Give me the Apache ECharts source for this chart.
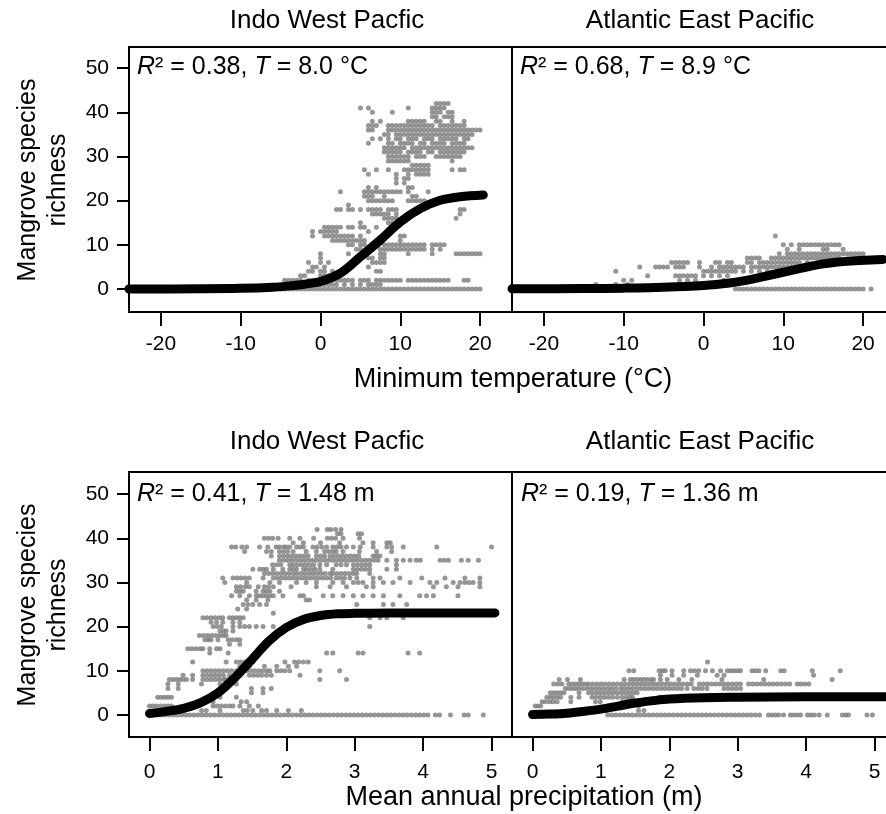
<!DOCTYPE html>
<html>
<head>
<meta charset="utf-8">
<title>Mangrove species richness</title>
<script src="https://cdn.jsdelivr.net/npm/echarts@6/dist/echarts.min.js"></script>
<style>
  html, body { margin: 0; padding: 0; background: #fff; }
  #chart { width: 886px; height: 814px; }
</style>
</head>
<body>
<div id="chart"></div>
<script>
// labels
var regionNames = ['Indo West Pacfic', 'Atlantic East Pacific'];
var fitLabels = [
  ['0.38', '8.0 °C'], ['0.68', '8.9 °C'],
  ['0.41', '1.48 m'], ['0.19', '1.36 m']
];
var tempTicks = [-20, -10, 0, 10, 20];
var precipTicks = [0, 1, 2, 3, 4, 5];
var richTicks = [0, 10, 20, 30, 40, 50];

// scatter rows: [richness, [x values]]
var iwpTempRows = [
  [42, [14.5, 15, 15.5, 16]],
  [41, [5, 6, 11, 14, 14.5, 15, 15.5]],
  [40, [6.5, 9, 14, 14.5, 15, 16, 16.5]],
  [39, [14, 14.5, 15.5, 16, 16.5]],
  [38, [6.5, 7.5, 11, 11.5, 12, 12.5, 13, 14.5, 15, 16.5, 18]],
  [37, [6, 6.5, 7, 8.5, 9, 9.5, 10, 10.5, 11, 11.5, 12, 12.5, 13, 13.5, 14, 15, 15.5, 16, 16.5, 17, 17.5, 18]],
  [36, [6, 6.5, 8.5, 9, 9.5, 10, 10.5, 11, 11.5, 12, 12.5, 13, 13.5, 14, 14.5, 15, 15.5, 16, 16.5, 17, 17.5, 18, 18.5, 19, 19.5, 20]],
  [35, [8, 8.5, 9.5, 10, 10.5, 11, 11.5, 12, 12.5, 13, 13.5, 14, 14.5, 15, 15.5, 16, 16.5, 17, 17.5, 18, 18.5, 19]],
  [34, [6.5, 7.5, 8.5, 9.5, 10, 11, 11.5, 12, 13, 13.5, 14, 15, 15.5, 16, 16.5, 17, 18, 18.5]],
  [33, [6, 8.5, 9, 10, 10.5, 11, 11.5, 12.5, 13, 14, 14.5, 15, 15.5, 16.5, 17, 17.5, 18]],
  [32, [8, 8.5, 9, 9.5, 10, 10.5, 11.5, 12, 12.5, 13, 13.5, 14, 14.5, 15, 15.5, 16, 16.5, 17, 17.5, 18, 18.5, 19]],
  [31, [8, 8.5, 9, 9.5, 10, 11, 11.5, 12, 12.5, 13.5, 14, 15, 15.5, 16, 16.5, 17, 17.5, 18]],
  [30, [8.5, 9, 9.5, 10, 10.5, 11, 12, 12.5, 13, 14.5, 15, 15.5, 16, 16.5, 17, 17.5]],
  [29, [8.5, 9, 9.5, 10, 10.5, 11, 16.5]],
  [28, [11.5, 12, 12.5, 13, 13.5]],
  [27, [5.5, 7, 8.5, 10.5, 11, 11.5, 12, 12.5, 13, 13.5, 16.5, 17.5, 18]],
  [26, [6, 9.5, 11, 12, 12.5, 13, 13.5]],
  [25, [9.5, 10.5, 11]],
  [24, [9.5, 10.5]],
  [23, [6, 7, 11, 11.5]],
  [22, [2.5, 5.5, 6, 6.5, 7, 7.5, 8, 8.5, 9, 9.5, 10, 11, 13.5]],
  [21, [5.5, 6, 6.5, 8, 11.5, 12]],
  [20, [6, 6.5, 7, 7.5, 8, 8.5, 9, 11, 11.5, 12, 12.5, 13]],
  [19, [3.5]],
  [18, [2, 2.5, 3.5, 4, 5, 6, 6.5, 7, 7.5, 8.5, 9, 9.5, 17.5, 18]],
  [17, [6.5, 7, 7.5, 8, 8.5, 9.5, 17.5]],
  [16, [8, 8.5, 9, 9.5, 17]],
  [15, [5, 8.5, 9, 9.5]],
  [14, [0.5, 1, 1.5, 2, 2.5, 3.5, 4, 5, 5.5, 7]],
  [13, [-1, 0, 0.5, 1, 1.5, 2, 6]],
  [12, [-1, 0.5, 1, 1.5, 2, 2.5, 3, 3.5, 4, 5, 10, 10.5]],
  [11, [1.5, 2, 2.5, 3, 3.5, 4, 4.5, 5, 5.5, 7.5, 10]],
  [10, [3.5, 4, 5, 5.5, 8, 8.5, 9, 9.5, 10, 10.5, 11, 11.5, 12, 12.5, 13, 14, 14.5, 15, 15.5]],
  [9, [4.5, 5, 7.5, 8, 8.5, 9, 9.5, 10, 10.5, 11, 11.5, 12, 12.5, 13, 14, 15]],
  [8, [0, 3.5, 7.5, 8, 11, 14, 17, 17.5, 18, 18.5, 19, 19.5, 20]],
  [7, [0, 6, 6.5, 7.5, 8]],
  [6, [-1.5, 0, 1, 6.5, 7, 7.5, 8]],
  [5, [-1, -0.5, 0.5, 6]],
  [4, [-1.5, -1, 0, 0.5, 1.5, 7, 7.5]],
  [3, [-2.5, -2, 0, 0.5, 1]],
  [2, [-4.5, -4, -3.5, -3, -2.5, -1.5, -1, -0.5, 0, 0.5, 2, 2.5, 3, 3.5, 4, 5, 5.5, 6, 7, 7.5, 8, 8.5, 9, 9.5, 10, 11, 11.5, 12, 12.5, 13, 13.5, 14, 14.5, 15, 15.5, 16, 18, 18.5]],
  [1, [-4, -3, -2, -1.5, -1, -0.5, 0, 0.5, 1, 1.5, 2, 3, 4, 5, 6, 6.5, 7, 7.5]],
  [0, [-5, -4.5, -4, -3.5, -3, -2.5, -2, -1.5, -1, -0.5, 0, 0.5, 1, 1.5, 2, 2.5, 3, 3.5, 4, 4.5, 5, 5.5, 6, 6.5, 7, 7.5, 8, 8.5, 9, 9.5, 10, 10.5, 11, 11.5, 12, 12.5, 13, 13.5, 14, 14.5, 15, 15.5, 16, 16.5, 17, 17.5, 18, 18.5, 19, 19.5, 20]]
];

var aepTempRows = [
  [12, [9]],
  [10, [10, 11, 12, 12.5, 13, 13.5, 14, 14.5, 15, 15.5, 16, 16.5, 17]],
  [9, [10.5, 12, 15, 15.5, 17.5]],
  [8, [9.5, 10.5, 11, 11.5, 12, 12.5, 13, 13.5, 14, 14.5, 15, 15.5, 16, 16.5, 17, 17.5, 18, 18.5, 19, 19.5, 20]],
  [7, [5.5, 6, 6.5, 7, 8.5, 9, 9.5, 10, 10.5, 11, 11.5, 12, 12.5, 13, 13.5, 14, 14.5, 15, 15.5, 16, 16.5, 17]],
  [6, [-4, -3.5, -3, -2.5, -2, -0.5, 1.5, 2, 3, 3.5, 5.5, 6, 7, 7.5, 8, 8.5, 9, 9.5, 10, 10.5, 11, 11.5, 12, 13]],
  [5, [-8, -6, -5.5, -5, -4.5, -3.5, -3, -2.5, -0.5, 1, 2, 2.5, 3, 3.5, 4, 4.5, 5, 6, 6.5, 7, 7.5, 8, 8.5, 9, 9.5, 10, 10.5, 11, 11.5, 12, 14]],
  [4, [-11, 0, 0.5, 1, 1.5, 2, 2.5, 3, 3.5, 4, 5, 6, 7, 8]],
  [3, [-7, -3.5, -3, -2.5, -2, -1.5, -1, 0, 1, 2, 3]],
  [2, [-10, -9, -3, -2, -1, 2.5, 3.5, 4.5]],
  [1, [-13.5, -11, -9.5]],
  [0, [4, 4.5, 5, 5.5, 6, 6.5, 7, 7.5, 8, 8.5, 9, 9.5, 10, 10.5, 11, 11.5, 12, 12.5, 13, 13.5, 14, 14.5, 15, 15.5, 16, 16.5, 17, 17.5, 18, 18.5, 19, 19.5, 20, 21]]
];

var iwpPrecRows = [
  [42, [2.45, 2.6, 2.65, 2.72, 2.8]],
  [41, [2.75, 2.8, 3.05, 3.1]],
  [40, [1.68, 1.74, 1.8, 1.88, 2.05, 2.2, 2.4, 2.6, 2.66, 2.72, 2.83, 3.07]],
  [39, [2.1, 2.25, 2.5, 2.78, 3.12, 3.27, 3.47, 3.52]],
  [38, [1.2, 1.26, 1.35, 1.42, 1.61, 1.73, 1.85, 1.9, 1.96, 2.0, 2.05, 2.15, 2.2, 2.25, 2.39, 2.45, 2.52, 2.59, 2.68, 2.74, 2.8, 2.88, 2.98, 3.08, 3.27, 3.47, 3.54, 3.71, 4.2, 5.0]],
  [37, [1.39, 1.71, 1.78, 1.9, 1.96, 2.02, 2.1, 2.29, 2.44, 2.56, 2.62, 2.68, 2.73, 2.83, 3.07, 3.32, 3.54]],
  [36, [1.78, 1.9, 1.96, 2.02, 2.08, 2.14, 2.2, 2.26, 2.32, 2.44, 2.5, 2.56, 2.64, 2.7, 2.76, 2.82, 2.88, 2.94, 3.0, 3.06, 3.27, 3.32, 3.37]],
  [35, [1.9, 1.96, 2.02, 2.08, 2.14, 2.2, 2.26, 2.32, 2.38, 2.44, 2.5, 2.56, 2.62, 2.68, 2.74, 2.8, 2.86, 2.92, 2.98, 3.04, 3.1, 3.16, 3.22, 3.28, 3.34, 3.47, 3.61, 3.71, 3.81, 3.9, 3.96, 4.25, 4.31, 4.37, 4.56, 4.66, 4.81]],
  [34, [1.8, 1.86, 1.92, 2.05, 2.1, 2.16, 2.22, 2.28, 2.34, 2.4, 2.49, 2.59, 2.73, 2.8, 2.88, 2.98, 3.04, 3.1, 3.16, 3.22, 3.61]],
  [33, [1.51, 1.61, 1.66, 1.71, 1.81, 1.95, 2.05, 2.1, 2.15, 2.25, 2.3, 2.36, 2.42, 2.49, 2.68, 2.98, 3.04, 3.1, 3.16, 3.22, 3.47, 3.61]],
  [32, [1.68, 1.74, 1.8, 1.86, 1.92, 1.98, 2.04, 2.1, 2.15, 2.21, 2.27, 2.33, 2.39, 2.45, 2.51, 2.57, 2.64, 2.68, 2.74, 2.8, 2.86, 2.92, 2.98, 3.03, 3.22]],
  [31, [1.07, 1.22, 1.28, 1.34, 1.4, 1.46, 1.66, 1.81, 1.87, 1.93, 1.99, 2.05, 2.11, 2.17, 2.23, 2.29, 2.35, 2.41, 2.47, 2.53, 2.59, 2.65, 2.73, 2.79, 2.85, 2.93, 3.03, 3.27, 3.37, 3.66, 3.98, 4.32, 4.61, 4.83]],
  [30, [1.1, 1.42, 1.76, 1.9, 2.15, 2.29, 2.44, 2.68, 2.83, 2.98, 3.05, 3.12, 3.27, 3.42, 3.56, 3.81, 4.1, 4.2, 4.44, 4.54, 4.61, 4.67, 4.73, 4.83]],
  [29, [1.27, 1.33, 1.4, 1.46, 1.59, 1.68, 1.74, 1.81, 2.07, 2.44, 2.64, 2.88, 3.17, 3.27, 4.15, 4.34, 4.51, 4.83]],
  [28, [1.27, 1.32, 1.37, 1.56, 1.66, 1.71, 1.76, 1.9]],
  [27, [1.2, 1.32, 1.46, 1.56, 1.61, 1.66, 1.71, 1.76, 1.81, 1.95, 2.2, 2.25, 2.54, 2.68, 2.83, 2.98, 3.12, 3.27, 3.42, 3.66, 3.95, 4.05, 4.15, 4.51]],
  [26, [1.42, 1.56, 1.73, 2.29, 2.34]],
  [25, [1.37, 1.44, 1.51, 1.61, 1.71, 3.03, 3.42, 3.56, 3.76]],
  [24, [1.29, 1.42]],
  [23, [1.81]],
  [22, [0.78, 0.84, 0.9, 0.96, 1.02, 1.07, 1.17, 1.22, 1.27, 1.32, 1.37, 3.22, 3.37, 3.47, 3.71]],
  [21, [0.9, 0.98, 1.07, 1.22, 1.32]],
  [20, [0.93, 0.99, 1.05, 1.22, 1.32, 1.39, 1.46, 1.56, 1.66, 1.81, 2.05, 3.22]],
  [19, [1.03, 1.08, 1.12, 1.22]],
  [18, [0.73, 0.79, 0.85, 0.91, 0.97, 1.03, 1.08, 1.12]],
  [17, [0.81, 0.86, 0.9, 1.0, 1.15, 1.21, 1.27, 1.32]],
  [16, [1.17, 1.32]],
  [15, [0.56, 0.62, 0.68, 0.74, 0.78, 0.88, 0.98, 1.03]],
  [14, [0.88, 1.15, 2.59, 2.68, 3.05, 3.12, 3.78, 3.95]],
  [12, [0.63, 1.12, 1.27, 1.33, 1.39, 1.45, 1.51, 1.98, 2.12, 2.18, 2.25, 2.32]],
  [11, [1.32, 1.46, 1.68, 1.86, 2.03, 2.15]],
  [10, [0.78, 0.84, 0.9, 0.96, 1.02, 1.08, 1.14, 1.2, 1.27, 1.42, 1.48, 1.54, 1.6, 1.66, 1.72, 1.76, 1.86, 1.92, 1.98, 2.05, 2.49, 2.78]],
  [9, [0.49, 0.63, 0.78, 0.84, 0.9, 0.96, 1.02, 1.08, 1.17, 1.32, 1.46, 1.52, 1.58, 1.64, 1.71, 1.78, 2.2]],
  [8, [0.29, 0.34, 0.39, 0.44, 0.49, 0.54, 0.63, 0.78, 0.84, 0.9, 0.96, 1.02, 1.08, 1.12, 1.27, 2.49, 2.88]],
  [7, [0.27, 0.42, 0.76, 1.03, 1.27]],
  [6, [0.27, 0.42, 1.49, 1.66, 1.78]],
  [5, [1.49, 1.66]],
  [4, [0.12, 0.17, 0.22, 0.27, 0.32, 1.03, 1.27]],
  [3, [0.93, 1.34, 1.42]],
  [2, [0, 0.05, 0.1, 0.16, 0.22, 0.27, 0.32, 0.93, 0.99, 1.05, 1.11, 1.17, 1.22, 1.32, 1.46, 1.59]],
  [1, [0.76, 0.83, 1.03, 1.37, 1.43, 1.51, 1.64, 1.71, 1.86, 2.03, 2.22]],
  [0, [0.05, 0.11, 0.17, 0.23, 0.29, 0.35, 0.41, 0.47, 0.53, 0.59, 0.65, 0.71, 0.77, 0.83, 0.89, 0.95, 1.01, 1.07, 1.13, 1.19, 1.25, 1.31, 1.37, 1.43, 1.49, 1.55, 1.61, 1.67, 1.73, 1.79, 1.85, 1.91, 1.97, 2.03, 2.09, 2.15, 2.21, 2.27, 2.33, 2.39, 2.45, 2.51, 2.57, 2.63, 2.69, 2.75, 2.81, 2.87, 2.93, 2.99, 3.05, 3.11, 3.17, 3.23, 3.29, 3.35, 3.41, 3.47, 3.53, 3.59, 3.65, 3.71, 3.77, 3.83, 3.89, 3.95, 4.01, 4.07, 4.18, 4.24, 4.4, 4.6, 4.66, 4.88]]
];

var aepPrecRows = [
  [12, [2.56]],
  [10, [1.41, 1.48, 1.85, 1.9, 1.94, 2.04, 2.21, 2.31, 2.37, 2.43, 2.53, 2.63, 2.75, 2.85, 2.9, 2.95, 3.0, 3.04, 3.21, 3.26, 3.31, 3.41, 3.63, 3.68, 4.09, 4.5]],
  [9, [1.87, 2.04, 2.21, 2.41, 2.7, 2.8, 4.11]],
  [8, [0.39, 0.51, 0.7, 1.34, 1.43, 1.48, 1.53, 1.58, 1.63, 1.68, 1.73, 1.77, 1.87, 1.97, 2.14, 2.33, 2.77, 3.38, 4.38]],
  [7, [0.31, 0.37, 0.43, 0.53, 0.58, 0.63, 0.68, 0.73, 0.78, 0.82, 0.88, 0.94, 1.0, 1.06, 1.12, 1.18, 1.24, 1.3, 1.36, 1.42, 1.48, 1.54, 1.6, 1.66, 1.72, 1.78, 1.84, 1.9, 1.96, 2.02, 2.08, 2.14, 2.2, 2.26, 2.32, 2.44, 2.5, 2.56, 2.62, 2.68, 2.74, 2.8, 2.86, 2.92, 2.98, 3.04, 3.16, 3.22, 3.28, 3.34, 3.4, 3.46, 3.52, 3.58, 3.64, 3.7, 3.76, 3.87, 3.92, 3.98, 4.04]],
  [6, [0.48, 0.53, 0.58, 0.63, 0.68, 0.74, 0.8, 0.86, 0.92, 0.98, 1.04, 1.1, 1.16, 1.22, 1.29, 1.34, 1.4, 1.46, 1.52, 1.58, 1.64, 1.7, 1.76, 1.82, 1.88, 1.94, 2.0, 2.06, 2.12, 2.18, 2.26, 2.36, 2.42, 2.48, 2.55, 2.8, 2.86, 2.92, 2.98, 3.04]],
  [5, [0.26, 0.31, 0.36, 0.41, 0.46, 0.68, 0.82, 0.88, 0.94, 1.0, 1.06, 1.12, 1.18, 1.24, 1.3, 1.36, 1.42, 1.48, 1.53]],
  [4, [0.21, 0.26, 0.31, 0.36, 0.41, 0.56, 0.68, 0.87, 0.93, 0.99, 1.05, 1.11, 1.17, 1.24, 1.31, 1.37, 1.42, 1.46, 1.87]],
  [3, [0.14, 0.19, 0.25, 0.3, 0.36, 0.56, 0.92, 0.99, 1.31, 1.36, 1.41, 1.46, 1.51]],
  [2, [0.04, 0.08, 0.12, 1.55]],
  [1, [1.55, 1.63]],
  [0, [1.1, 1.16, 1.22, 1.28, 1.34, 1.4, 1.46, 1.52, 1.58, 1.64, 1.7, 1.76, 1.82, 1.88, 1.94, 2.0, 2.06, 2.12, 2.18, 2.24, 2.3, 2.36, 2.42, 2.48, 2.54, 2.6, 2.66, 2.72, 2.78, 2.84, 2.9, 2.96, 3.02, 3.08, 3.14, 3.2, 3.26, 3.32, 3.45, 3.5, 3.55, 3.6, 3.67, 3.77, 3.82, 3.87, 3.92, 4.02, 4.07, 4.12, 4.19, 4.31, 4.53, 4.58, 4.62, 4.89, 4.97]]
];

// fitted logistic curves
var iwpTempFitX = [-24, -15, -10, -6, -4, -2, 0, 2.5, 5, 7.5, 10, 12.5, 15, 17.5, 20.4];
var iwpTempFitY = [0, 0.05, 0.15, 0.4, 0.7, 1.1, 1.7, 3.6, 7.3, 11.1, 15.2, 18.2, 20.1, 20.9, 21.3];
var aepTempFitX = [-24, -15, -10, -5, 0, 3, 6, 9, 12, 15, 18, 21, 22.5];
var aepTempFitY = [0.05, 0.1, 0.2, 0.4, 0.8, 1.3, 2.2, 3.4, 4.6, 5.7, 6.3, 6.6, 6.7];
var iwpPrecFitX = [0, 0.25, 0.5, 0.75, 1.0, 1.25, 1.5, 1.75, 2.0, 2.25, 2.5, 2.75, 3.0, 3.5, 4, 4.5, 5.05];
var iwpPrecFitY = [0.3, 0.8, 1.5, 2.8, 5.0, 8.5, 12.6, 16.8, 19.8, 21.6, 22.5, 22.9, 23.0, 23.1, 23.1, 23.1, 23.1];
var aepPrecFitX = [0, 0.25, 0.5, 0.75, 1.0, 1.25, 1.5, 1.75, 2.0, 2.5, 3, 4, 5.3];
var aepPrecFitY = [0.1, 0.2, 0.4, 0.8, 1.3, 2.0, 2.7, 3.2, 3.6, 3.9, 4.0, 4.1, 4.1];

var FONT = '"Liberation Sans", Arial, Helvetica, sans-serif';

function rowsToPoints(rows) {
  var pts = [];
  rows.forEach(function (r) {
    r[1].forEach(function (x) { pts.push([x, r[0]]); });
  });
  return pts;
}
function zip(xs, ys) {
  return xs.map(function (x, i) { return [x, ys[i]]; });
}

var grids = [
  { left: 129, top: 47, width: 383, height: 265 },
  { left: 512, top: 47, width: 383, height: 265 },
  { left: 129, top: 472, width: 383, height: 265 },
  { left: 512, top: 472, width: 383, height: 265 }
].map(function (g) {
  return Object.assign({ show: true, borderColor: '#000', borderWidth: 2, backgroundColor: 'transparent', outerBoundsMode: 'none', containLabel: false }, g);
});

function xAx(idx, min, max, ticks, margin) {
  return {
    gridIndex: idx, type: 'value', min: min, max: max, position: 'bottom',
    axisLine: { show: false, onZero: false },
    splitLine: { show: false },
    axisTick: { show: true, inside: false, length: 14, customValues: ticks, lineStyle: { color: '#000', width: 2 } },
    axisLabel: { customValues: ticks, fontSize: 21, color: '#000', fontFamily: FONT, margin: margin }
  };
}
function yAx(idx, min, max, showLabels) {
  return {
    gridIndex: idx, type: 'value', min: min, max: max, position: 'left',
    axisLine: { show: false, onZero: false },
    splitLine: { show: false },
    axisTick: { show: showLabels, inside: false, length: 12, customValues: richTicks, lineStyle: { color: '#000', width: 2 } },
    axisLabel: { show: showLabels, customValues: richTicks, fontSize: 21, color: '#000', fontFamily: FONT, margin: 20 }
  };
}

var scatterSets = [iwpTempRows, aepTempRows, iwpPrecRows, aepPrecRows];
var fitSets = [
  zip(iwpTempFitX, iwpTempFitY), zip(aepTempFitX, aepTempFitY),
  zip(iwpPrecFitX, iwpPrecFitY), zip(aepPrecFitX, aepPrecFitY)
];

var series = [];
scatterSets.forEach(function (rows, i) {
  series.push({
    type: 'scatter', xAxisIndex: i, yAxisIndex: i,
    data: rowsToPoints(rows),
    symbol: 'circle', symbolSize: 5,
    itemStyle: { color: '#7c7c7c' },
    silent: true, z: 2
  });
});
fitSets.forEach(function (pts, i) {
  series.push({
    type: 'line', xAxisIndex: i, yAxisIndex: i,
    data: pts, smooth: 0.35, showSymbol: false, clip: false,
    lineStyle: { color: '#000', width: 9, cap: 'round', join: 'round' },
    silent: true, z: 3
  });
});

function txt(x, y, text, size, align, extra) {
  var o = {
    type: 'text', x: x, y: y, silent: true, z: 10,
    style: {
      text: text, fontSize: size, fontFamily: FONT, fill: '#000',
      align: align, verticalAlign: 'middle',
      textAlign: align, textVerticalAlign: 'middle'
    }
  };
  return Object.assign(o, extra || {});
}
function fitText(x, y, k) {
  var r2 = fitLabels[k][0], t = fitLabels[k][1];
  var el = txt(x, y, '{i|R}{n|² = ' + r2 + ', }{i|T}{n| = ' + t + '}', 25, 'left');
  el.style.rich = {
    i: { fontStyle: 'italic', fontSize: 25, fontFamily: FONT, fill: '#000' },
    n: { fontSize: 25, fontFamily: FONT, fill: '#000' }
  };
  return el;
}

var graphics = [
  txt(327, 21, regionNames[0], 26, 'center'),
  txt(700, 21, regionNames[1], 26, 'center'),
  txt(327, 442, regionNames[0], 26, 'center'),
  txt(700, 442, regionNames[1], 26, 'center'),
  fitText(137, 67, 0),
  fitText(520, 67, 1),
  fitText(137, 494, 2),
  fitText(521, 494, 3),
  txt(513, 380, 'Minimum temperature (°C)', 27, 'center'),
  txt(524, 798, 'Mean annual precipitation (m)', 27, 'center'),
  txt(28, 180, 'Mangrove species', 25, 'center', { rotation: Math.PI / 2 }),
  txt(58, 180, 'richness', 25, 'center', { rotation: Math.PI / 2 }),
  txt(28, 605, 'Mangrove species', 25, 'center', { rotation: Math.PI / 2 }),
  txt(58, 605, 'richness', 25, 'center', { rotation: Math.PI / 2 })
];

var chart = echarts.init(document.getElementById('chart'), null, { renderer: 'canvas' });
chart.setOption({
  animation: false,
  backgroundColor: '#fff',
  textStyle: { fontFamily: FONT },
  grid: grids,
  xAxis: [
    xAx(0, -24, 24, tempTicks, 22),
    xAx(1, -24, 24, tempTicks, 22),
    xAx(2, -0.3, 5.3, precipTicks, 25),
    xAx(3, -0.3, 5.3, precipTicks, 25)
  ],
  yAxis: [
    yAx(0, -5.2, 54.8, true),
    yAx(1, -5.2, 54.8, false),
    yAx(2, -5, 55, true),
    yAx(3, -5, 55, false)
  ],
  series: series,
  graphic: graphics
});
</script>
</body>
</html>
